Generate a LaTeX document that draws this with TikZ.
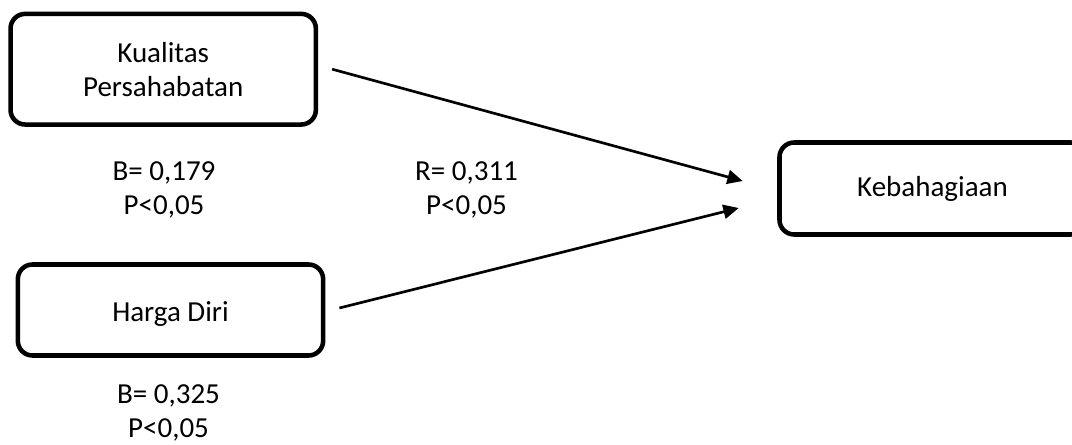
\documentclass[tikz,border=0pt]{standalone}
\usepackage{fontspec}
\setmainfont{Carlito}
\usetikzlibrary{arrows.meta,calc}

\tikzset{
  varbox/.style={draw=black, line width=3.4pt, rounded corners=11pt,
    align=center, inner sep=0pt},
  path/.style={draw=black, line width=2pt,
    -{Triangle[length=11.5pt,width=10.5pt]}},
  stat/.style={align=center, anchor=base, inner sep=0pt},
}

\begin{document}
\begin{tikzpicture}[x=0.75pt, y=-0.75pt,
  every node/.style={font=\fontsize{21.75pt}{25.5pt}\selectfont, text=black}]
  \useasboundingbox (0,0) rectangle (1072,445);
  \clip (0,0) rectangle (1072,445);

  % predictors and outcome
  \node[varbox, minimum width=229pt, minimum height=83pt]
    (kp) at (163.2,69.2) {Kualitas\\Persahabatan};
  \node[varbox, minimum width=229pt, minimum height=68.25pt,
    text height=18pt, text depth=0pt]
    (hd) at (170.5,310) {Harga Diri};
  \node[varbox, minimum width=229.5pt, minimum height=69pt]
    (kb) at (932.5,188.5) {Kebahagiaan};

  % regression paths
  \coordinate (s1) at ($(kp.east)+(14,0)$);
  \coordinate (t1) at ($(kb.west)+(-34.5,-7.5)$);
  \coordinate (s2) at ($(hd.east)+(14,-2)$);
  \coordinate (t2) at ($(kb.west)+(-38.5,19.5)$);
  \draw[path] (s1) -- (t1);
  \draw[path] (s2) -- (t2);

  % coefficients (anchored at the baseline of the last line)
  \node[stat] (b1) at (164,215) {B= 0,179\\P<0,05};
  \node[stat] (r)  at (466.5,215) {R= 0,311\\P<0,05};
  \node[stat] (b2) at (168.5,438) {B= 0,325\\P<0,05};
\end{tikzpicture}
\end{document}
